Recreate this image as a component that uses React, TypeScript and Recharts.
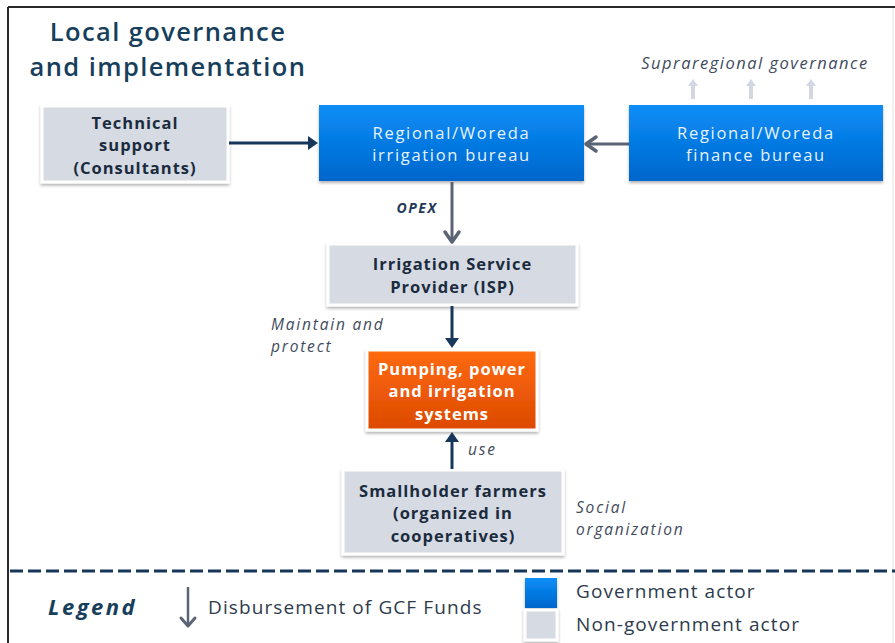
import { ComposedChart, XAxis, YAxis, Scatter, ReferenceArea, ReferenceLine } from 'recharts';

// page is 895x643 -> chart covers it 1:1, y axis reversed so values read like pixel rows
const W = 895;
const H = 643;

// boxes of the diagram
const boxKind = ['non', 'gov', 'gov', 'non', 'ops', 'non', 'gov', 'non'];
const boxX1 = [42, 319, 629, 328, 367, 343, 525, 525];
const boxX2 = [228, 584, 883, 577, 537, 563, 557, 557];
const boxY1 = [106, 105, 105, 244, 350, 470, 578, 610];
const boxY2 = [182, 181, 181, 305, 430, 554, 608, 640];
const boxLines = [
  ['Technical', 'support', '(Consultants)'],
  ['Regional/Woreda', 'irrigation bureau'],
  ['Regional/Woreda', 'finance bureau'],
  ['Irrigation Service', 'Provider (ISP)'],
  ['Pumping, power', 'and irrigation', 'systems'],
  ['Smallholder farmers', '(organized in', 'cooperatives)'],
  [],
  [],
];

// arrows (from -> to)
const arrowKind = ['navy', 'gray', 'gray', 'navy', 'navy', 'light', 'light', 'light', 'legend'];
const arrowX1 = [229, 629, 452, 452, 452, 693, 751, 811, 188];
const arrowY1 = [143, 144, 182, 306, 469, 99, 99, 99, 587];
const arrowX2 = [318, 586, 452, 452, 452, 693, 751, 811, 188];
const arrowY2 = [143, 144, 242, 348, 432, 79, 79, 79, 626];

// free text (y = first line)
const labelLines = [
  ['Local governance', 'and implementation'],
  ['Supraregional governance'],
  ['OPEX'],
  ['Maintain and', 'protect'],
  ['use'],
  ['Social', 'organization'],
  ['Legend'],
  ['Disbursement of GCF Funds'],
  ['Government actor'],
  ['Non-government actor'],
];
const labelX = [168, 755, 417, 271, 468, 576, 48, 208, 576, 576];
const labelY = [31, 62, 207, 324, 449, 507, 606, 607, 591, 624];
const labelKind = ['title', 'noteMid', 'opex', 'note', 'note', 'note', 'legendHead', 'legend', 'legend', 'legend'];

const FONT = '"Open Sans", sans-serif';
const NAVY = '#17375a';
const GRAY = '#5b6475';

const labelStyle: Record<string, any> = {
  title: { fontSize: 25.5, fontWeight: 600, fill: '#173e5b', anchor: 'middle', italic: false, spacing: 1.4, lh: 35 },
  note: { fontSize: 15.5, fontWeight: 400, fill: '#3f4b5c', anchor: 'start', italic: true, spacing: 1.8, lh: 21.5 },
  noteMid: { fontSize: 16.5, fontWeight: 400, fill: '#3f4b5c', anchor: 'middle', italic: true, spacing: 1.5, lh: 21 },
  opex: { fontSize: 14, fontWeight: 700, fill: '#1f3a57', anchor: 'middle', italic: true, spacing: 1.5, lh: 18 },
  legendHead: { fontSize: 22, fontWeight: 700, fill: '#173e5b', anchor: 'start', italic: true, spacing: 2.5, lh: 26 },
  legend: { fontSize: 19, fontWeight: 400, fill: '#2e3b4c', anchor: 'start', italic: false, spacing: 1.1, lh: 24 },
};

const labels = labelLines.map((lines, i) => ({ x: labelX[i], y: labelY[i], lines, kind: labelKind[i] }));

const BoxShape = (idx: number) => (props: any) => {
  const { x, y, width, height } = props;
  const kind = boxKind[idx];
  const lines = boxLines[idx];
  const gid = `grad-${idx}`;
  const fid = `shadow-${idx}`;
  let fill = '#d6dae2';
  let textFill = '#1b2b3e';
  let weight = 700;
  let spacing = 1.0;
  if (kind === 'gov') {
    fill = `url(#${gid})`;
    textFill = '#e8f2ff';
    weight = 400;
    spacing = 1.7;
  }
  if (kind === 'ops') {
    fill = `url(#${gid})`;
    textFill = '#ffffff';
  }
  const size = 16.5;
  const lh = 22.5;
  const cx = x + width / 2;
  const cy = y + height / 2;
  const start = cy - ((lines.length - 1) * lh) / 2;
  return (
    <g>
      <defs>
        <linearGradient id={gid} x1="0" y1="0" x2="0" y2="1">
          {kind === 'ops' ? (
            <>
              <stop offset="0%" stopColor="#ff6a12" />
              <stop offset="100%" stopColor="#dc4a00" />
            </>
          ) : (
            <>
              <stop offset="0%" stopColor="#0a8ef8" />
              <stop offset="100%" stopColor="#0066cc" />
            </>
          )}
        </linearGradient>
        <filter id={fid} x="-10%" y="-10%" width="120%" height="130%">
          <feDropShadow dx="0" dy="2" stdDeviation="1.5" floodColor="#000" floodOpacity="0.3" />
        </filter>
      </defs>
      <rect
        x={x}
        y={y}
        width={width}
        height={height}
        fill={fill}
        stroke={kind === 'gov' ? 'none' : '#ffffff'}
        strokeWidth={kind === 'gov' ? 0 : 3}
        filter={`url(#${fid})`}
      />
      {lines.length > 0 && (
        <text
          textAnchor="middle"
          dominantBaseline="central"
          fontFamily={FONT}
          fontSize={size}
          fontWeight={weight}
          letterSpacing={spacing}
          fill={textFill}
        >
          {lines.map((t, k) => (
            <tspan key={k} x={cx} y={start + k * lh}>
              {t}
            </tspan>
          ))}
        </text>
      )}
    </g>
  );
};

const ArrowShape = (idx: number) => (props: any) => {
  const { x1, y1, x2, y2 } = props;
  const kind = arrowKind[idx];
  const color = kind === 'navy' ? NAVY : kind === 'light' ? '#d3d7df' : GRAY;
  const sw = kind === 'light' ? 4 : kind === 'legend' ? 2.5 : 3;
  const ang = Math.atan2(y2 - y1, x2 - x1);
  const head = kind === 'light' ? 7 : kind === 'legend' ? 8 : 10;
  const half = kind === 'light' ? 5 : 7;
  const bx = x2 - head * Math.cos(ang);
  const by = y2 - head * Math.sin(ang);
  const px = -Math.sin(ang) * half;
  const py = Math.cos(ang) * half;
  if (kind === 'gray' || kind === 'legend') {
    return (
      <g>
        <line x1={x1} y1={y1} x2={x2 - Math.cos(ang) * 1.5} y2={y2 - Math.sin(ang) * 1.5} stroke={color} strokeWidth={sw} />
        <polyline
          points={`${bx + px},${by + py} ${x2},${y2} ${bx - px},${by - py}`}
          fill="none"
          stroke={color}
          strokeWidth={sw + 0.5}
          strokeLinecap="round"
          strokeLinejoin="round"
        />
      </g>
    );
  }
  return (
    <g>
      <line x1={x1} y1={y1} x2={bx} y2={by} stroke={color} strokeWidth={sw} />
      <polygon points={`${bx + px},${by + py} ${x2},${y2} ${bx - px},${by - py}`} fill={color} />
    </g>
  );
};

const LabelShape = (props: any) => {
  const { cx, cy, payload } = props;
  const s = labelStyle[payload.kind];
  return (
    <text
      textAnchor={s.anchor}
      dominantBaseline="central"
      fontFamily={FONT}
      fontSize={s.fontSize}
      fontWeight={s.fontWeight}
      fontStyle={s.italic ? 'italic' : 'normal'}
      letterSpacing={s.spacing}
      fill={s.fill}
    >
      {payload.lines.map((t: string, k: number) => (
        <tspan key={k} x={cx} y={cy + k * s.lh}>
          {t}
        </tspan>
      ))}
    </text>
  );
};

export default function App() {
  return (
    <div style={{ position: 'absolute', left: 0, top: 0, width: W, height: H, background: '#ffffff' }}>
      <ComposedChart width={W} height={H} margin={{ top: 0, right: 0, bottom: 0, left: 0 }} data={labels}>
        <XAxis type="number" dataKey="x" domain={[0, W]} hide allowDataOverflow />
        <YAxis type="number" dataKey="y" domain={[0, H]} reversed hide allowDataOverflow />

        {/* frame */}
        <ReferenceLine segment={[{ x: 8, y: 7 }, { x: W, y: 7 }]} stroke="#2b2b2b" strokeWidth={2} />
        <ReferenceLine segment={[{ x: 8, y: 7 }, { x: 8, y: H }]} stroke="#2b2b2b" strokeWidth={2} />
        <ReferenceLine segment={[{ x: 893, y: 8 }, { x: 893, y: H }]} stroke="#e3e3e3" strokeWidth={1} />

        {/* divider above legend */}
        <ReferenceLine
          segment={[{ x: 10, y: 571 }, { x: W, y: 571 }]}
          stroke={NAVY}
          strokeWidth={3}
          strokeDasharray="13 5"
        />

        {boxKind.map((_, i) => (
          <ReferenceArea
            key={`box-${i}`}
            x1={boxX1[i]}
            x2={boxX2[i]}
            y1={boxY1[i]}
            y2={boxY2[i]}
            shape={BoxShape(i)}
          />
        ))}

        {arrowKind.map((_, i) => (
          <ReferenceLine
            key={`arrow-${i}`}
            segment={[{ x: arrowX1[i], y: arrowY1[i] }, { x: arrowX2[i], y: arrowY2[i] }]}
            shape={ArrowShape(i)}
          />
        ))}

        <Scatter data={labels} dataKey="y" shape={LabelShape} isAnimationActive={false} />
      </ComposedChart>
    </div>
  );
}
